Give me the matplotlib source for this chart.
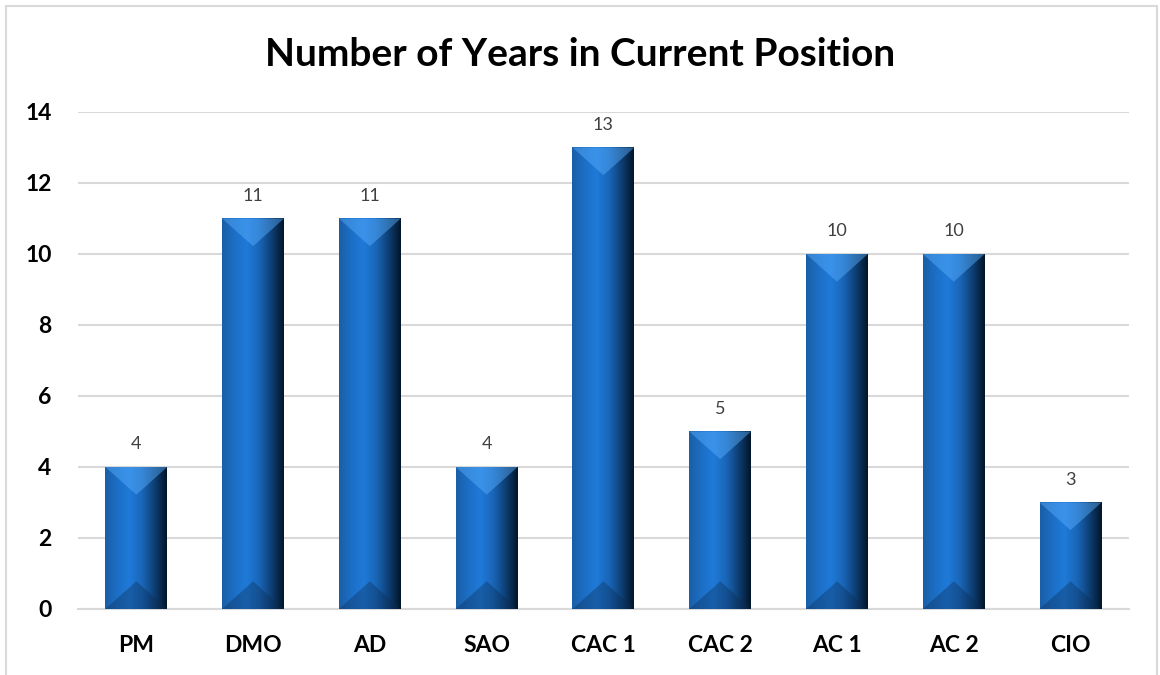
import numpy as np
from matplotlib import pyplot as plt
from matplotlib.colors import LinearSegmentedColormap
from matplotlib.patches import Rectangle, Polygon

positions = ['PM', 'DMO', 'AD', 'SAO', 'CAC 1', 'CAC 2', 'AC 1', 'AC 2', 'CIO']
years = [4, 11, 11, 4, 13, 5, 10, 10, 3]
y_ticks = [0, 2, 4, 6, 8, 10, 12, 14]

plt.rcParams['font.family'] = ['Lato', 'DejaVu Sans']

# horizontal shading of each bar, left edge -> right edge
bar_cmap = LinearSegmentedColormap.from_list(
    'bevel', ['#1a5ea6', '#1c6fc6', '#1f7ad8', '#1a66b8', '#0e3f75', '#021529'])


def bevel_bar(ax, x, h, width=0.53, depth=0.78):
    left, right = x - width / 2, x + width / 2
    grad = np.linspace(0, 1, 256).reshape(1, -1)
    im = ax.imshow(grad, cmap=bar_cmap, aspect='auto', extent=(left, right, 0, h),
                   origin='lower', zorder=3, interpolation='bicubic')
    clip = Rectangle((left, 0), width, h, transform=ax.transData)
    im.set_clip_path(clip)
    d = min(depth, h / 2)
    top = Polygon([(left, h), (right, h), (x, h - d)], closed=True,
                  facecolor='#5ab0ff', alpha=0.45, edgecolor='none', zorder=4)
    ax.add_patch(top)
    bot = Polygon([(left, 0), (right, 0), (x, d)], closed=True,
                  facecolor='#0a2a50', alpha=0.35, edgecolor='none', zorder=4)
    ax.add_patch(bot)
    ax.text(x, h + 0.42, str(h), ha='center', va='bottom', fontsize=13,
            color='#404040', zorder=5)


def full_plotter():
    fig = plt.figure(figsize=(11.6, 6.75), dpi=100)
    ax = fig.add_axes([0.0672, 0.0978, 0.906, 0.7363])
    for i, v in enumerate(years):
        bevel_bar(ax, i, v)
    ax.set_xlim(-0.5, len(positions) - 0.5)
    ax.set_ylim(0, 14)
    ax.set_yticks(y_ticks)
    ax.set_xticks(range(len(positions)))
    ax.set_xticklabels(positions, fontsize=16.5, fontweight='bold')
    ax.set_yticklabels([str(t) for t in y_ticks], fontsize=16.5, fontweight='bold')
    ax.tick_params(axis='y', length=0, pad=19)
    ax.tick_params(axis='x', length=0, pad=19)
    ax.grid(axis='y', color='#d9d9d9', linewidth=1.5, zorder=0)
    ax.set_axisbelow(True)
    for s in ['top', 'right', 'left']:
        ax.spines[s].set_visible(False)
    ax.spines['bottom'].set_color('#d9d9d9')
    ax.spines['bottom'].set_linewidth(1.5)
    fig.text(0.5, 0.92, 'Number of Years in Current Position', ha='center', va='center',
             fontsize=28, fontweight='bold', color='black')
    frame = Rectangle((6 / 1160, -0.05), 1151 / 1160, 1.05 - 6 / 675, transform=fig.transFigure,
                      fill=False, edgecolor='#d9d9d9', linewidth=1.5)
    fig.patches.append(frame)
    plt.savefig('out.png', dpi=100)
    plt.close(fig)


if __name__ == '__main__':
    full_plotter()
